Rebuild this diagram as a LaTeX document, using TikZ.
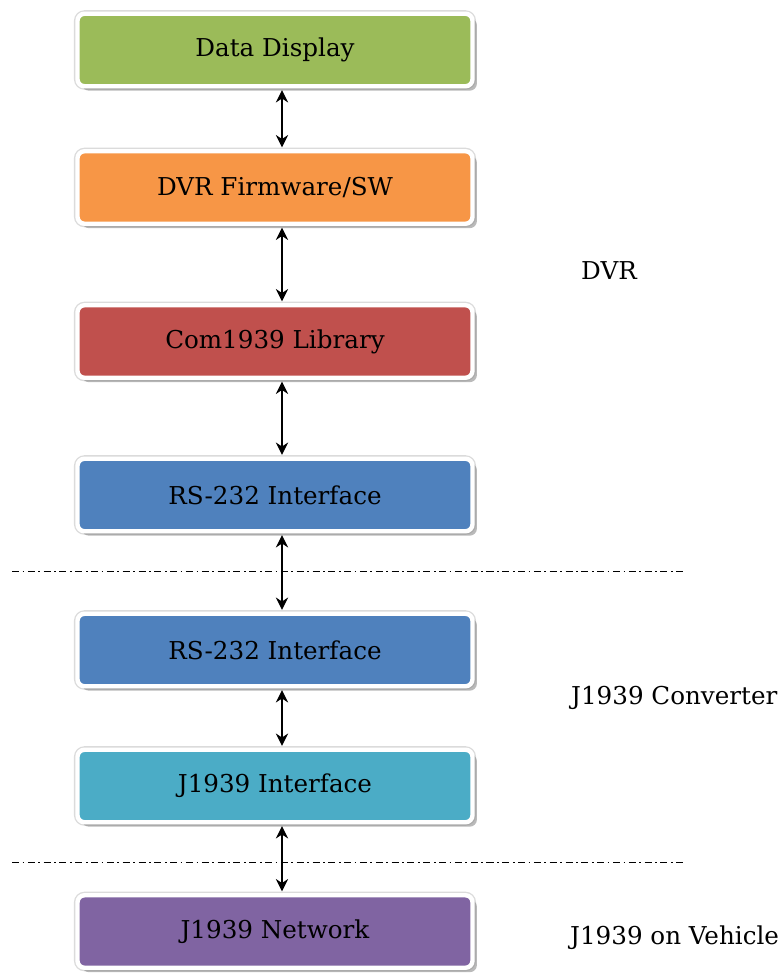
\documentclass[tikz,border=0pt]{standalone}
\usepackage{fontspec}
\setmainfont{DejaVu Serif}
\usetikzlibrary{shadows,arrows.meta}

\definecolor{boxgreen}{RGB}{155,187,89}
\definecolor{boxorange}{RGB}{247,150,70}
\definecolor{boxred}{RGB}{192,80,77}
\definecolor{boxblue}{RGB}{79,129,189}
\definecolor{boxteal}{RGB}{75,172,198}
\definecolor{boxpurple}{RGB}{128,100,162}

\tikzset{
	layer/.style={rectangle, rounded corners=4pt, draw=white, line width=2.5pt,
		minimum width=7.9cm, minimum height=1.45cm, font=\fontsize{14}{16}\selectfont,
		preaction={draw=black!14, line width=4pt},
		drop shadow={shadow xshift=2.5pt, shadow yshift=-2.5pt, fill=black!45, opacity=0.6}},
	split/.style={draw=black, line width=0.8pt, dash pattern=on 4pt off 2pt on 1pt off 2pt},
	sidelabel/.style={anchor=west, font=\fontsize{14}{16}\selectfont},
}

\begin{document}
\begin{tikzpicture}[>={Stealth[length=7pt,width=7pt]}]
		\useasboundingbox (0,0) rectangle (15.62,-19.52);
		
		% DVR side
		\node[layer, fill=boxgreen] (display) at (5.5,-1.0) {Data Display};
		\node[layer, fill=boxorange] (firmware) at (5.5,-3.75) {DVR Firmware/SW};
		\node[layer, fill=boxred] (library) at (5.5,-6.83) {Com1939 Library};
		\node[layer, fill=boxblue] (rsdvr) at (5.5,-9.9) {RS-232 Interface};
		
		% converter side
		\node[layer, fill=boxblue] (rsconv) at (5.5,-13.0) {RS-232 Interface};
		\node[layer, fill=boxteal] (jiface) at (5.5,-15.72) {J1939 Interface};
		
		% vehicle
		\node[layer, fill=boxpurple] (jnet) at (5.5,-18.63) {J1939 Network};
		
		% section labels
		\node[sidelabel] (lbldvr) at (11.5,-5.42) {DVR};
		\node[sidelabel] (lblconv) at (11.3,-13.95) {J1939 Converter};
		\node[sidelabel] (lblveh) at (11.28,-18.75) {J1939 on Vehicle};
		
		% dash-dot separators
		\coordinate (sepa1) at (0.24,-11.43);
		\coordinate (sepa2) at (13.66,-11.43);
		\coordinate (sepb1) at (0.24,-17.25);
		\coordinate (sepb2) at (13.66,-17.25);
		\draw[split] (sepa1) -- (sepa2);
		\draw[split] (sepb1) -- (sepb2);
		
		% connections (slightly right of centre)
		\foreach \a/\b in {display/firmware, firmware/library, library/rsdvr, rsdvr/rsconv, rsconv/jiface, jiface/jnet} {
			\draw[<->, line width=0.8pt, shorten <=1pt, shorten >=1pt] ([xshift=0.14cm]\a.south) -- ([xshift=0.14cm]\b.north);
		}
	\end{tikzpicture}
\end{document}
